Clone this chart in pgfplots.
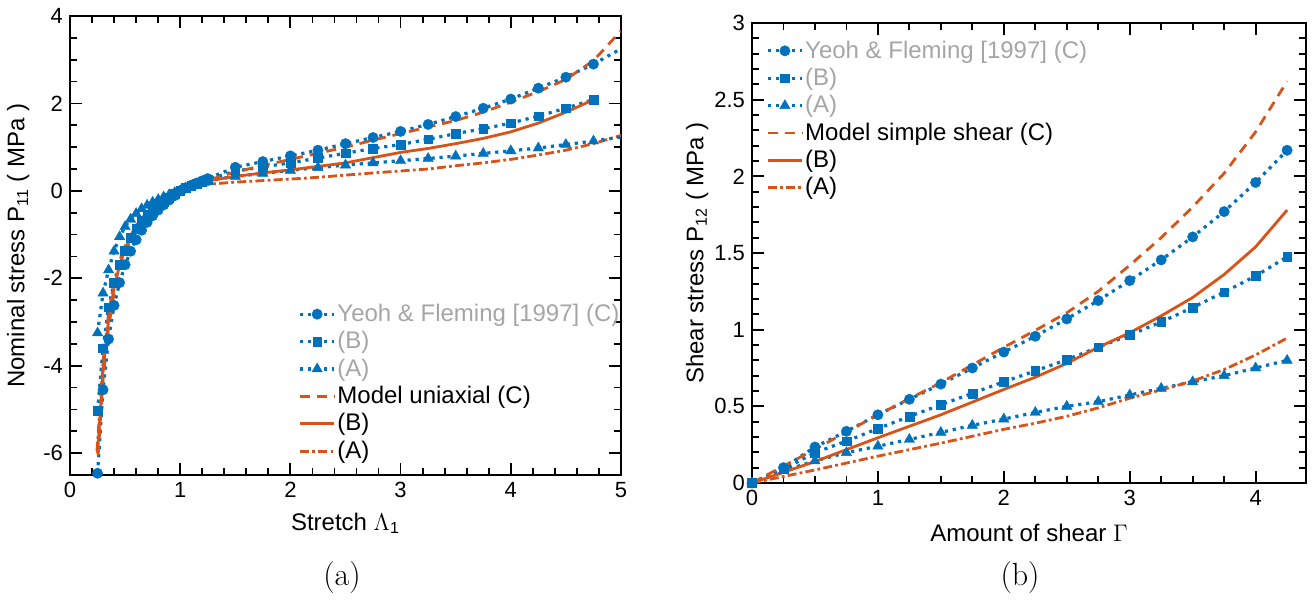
\documentclass[border=0pt]{standalone}
\usepackage{pgfplots}
\pgfplotsset{compat=1.18}
\usepackage{fontspec}
\newfontfamily\arial{Liberation Sans}
\definecolor{mblue}{RGB}{0,114,189}
\definecolor{morange}{RGB}{217,83,25}
\definecolor{lgray}{RGB}{165,165,165}
\pgfplotsset{
  myaxis/.style={
    scale only axis,
    axis line style={line width=1.1pt},
    every tick/.style={black, line width=0.9pt},
    major tick length=6pt, minor tick length=3.5pt,
    tick align=inside,
    tick pos=both,
    ticklabel style={font=\arial\fontsize{11}{13}\selectfont},
    /pgf/number format/assume math mode=true,
    label style={font=\arial\fontsize{12}{14}\selectfont},
    legend style={draw=none, fill=none, font=\arial\fontsize{12}{14}\selectfont,
      inner sep=0pt, row sep=1.9pt, nodes={inner sep=0.8pt, text depth=0.15em}},
    legend cell align=left,
  },
  dat/.style={color=mblue, line width=1.6pt, dash pattern=on 1.6pt off 2.4pt,
    mark options={solid, fill=mblue, draw=mblue, line width=0.2pt}},
  datC/.style={dat, mark=*, mark size=2.6pt},
  datB/.style={dat, mark=square*, mark size=2.2pt},
  datA/.style={dat, mark=triangle*, mark size=3pt},
  modC/.style={color=morange, line width=1.4pt, dash pattern=on 5pt off 3.5pt, no marks},
  modB/.style={color=morange, line width=1.4pt, solid, no marks},
  modA/.style={color=morange, line width=1.4pt, dash pattern=on 4.5pt off 1.6pt on 1.4pt off 1.6pt, no marks},
}
\begin{document}
\begin{tikzpicture}
\useasboundingbox (0,0) rectangle (657pt,301pt);
\begin{axis}[myaxis,
  at={(35pt,63.5pt)}, anchor=south west,
  width=275.5pt, height=229.5pt,
  xmin=0, xmax=5, ymin=-6.5, ymax=4,
  xtick={0,1,2,3,4,5}, minor x tick num=4,
  ytick={-6,-4,-2,0,2,4}, minor y tick num=3,
  xlabel={Stretch \(\Lambda\)\textsubscript{1}},
  ylabel={Nominal stress P\textsubscript{11} ( MPa )},
  xlabel style={at={(axis description cs:0.5,-0.105)}, anchor=center},
  ylabel style={at={(axis description cs:-0.094,0.5)}, anchor=center},
  legend style={at={(0.414,0.377)}, anchor=north west},
]
\addplot[datC] coordinates {(0.25,-6.46) (0.3,-4.55) (0.35,-3.39) (0.4,-2.62) (0.45,-2.10) (0.5,-1.69) (0.55,-1.38) (0.6,-1.12) (0.65,-0.90) (0.7,-0.72) (0.75,-0.57) (0.8,-0.44) (0.85,-0.32) (0.9,-0.21) (0.95,-0.11) (1.0,0) (1.05,0.07) (1.1,0.13) (1.15,0.18) (1.2,0.23) (1.25,0.28) (1.5,0.54) (1.75,0.67) (2,0.80) (2.25,0.93) (2.5,1.08) (2.75,1.22) (3,1.36) (3.25,1.52) (3.5,1.70) (3.75,1.89) (4,2.10) (4.25,2.35) (4.5,2.60) (4.75,2.90)};
\addlegendentry{\textcolor{lgray}{Yeoh \& Fleming [1997] (C)}}
\addplot[datB] coordinates {(0.25,-5.03) (0.3,-3.6) (0.35,-2.66) (0.4,-2.10) (0.45,-1.69) (0.5,-1.37) (0.55,-1.08) (0.6,-0.86) (0.65,-0.69) (0.7,-0.55) (0.75,-0.43) (0.8,-0.33) (0.85,-0.24) (0.9,-0.15) (0.95,-0.07) (1,0) (1.05,0.065) (1.1,0.12) (1.15,0.17) (1.2,0.215) (1.25,0.26) (1.5,0.45) (1.75,0.55) (2,0.64) (2.25,0.75) (2.5,0.86) (2.75,0.97) (3,1.06) (3.25,1.18) (3.5,1.31) (3.75,1.42) (4,1.55) (4.25,1.71) (4.5,1.89) (4.75,2.09)};
\addlegendentry{\textcolor{lgray}{(B)}}
\addplot[datA] coordinates {(0.25,-3.25) (0.3,-2.34) (0.35,-1.81) (0.4,-1.38) (0.45,-1.05) (0.5,-0.82) (0.55,-0.65) (0.6,-0.52) (0.65,-0.41) (0.7,-0.33) (0.75,-0.26) (0.8,-0.2) (0.85,-0.14) (0.9,-0.09) (0.95,-0.04) (1,0) (1.05,0.06) (1.1,0.11) (1.15,0.155) (1.2,0.2) (1.25,0.24) (1.5,0.33) (1.75,0.40) (2,0.47) (2.25,0.53) (2.5,0.59) (2.75,0.64) (3,0.69) (3.25,0.74) (3.5,0.795) (3.75,0.857) (4,0.916) (4.25,0.98) (4.5,1.06) (4.75,1.14)};
\addlegendentry{\textcolor{lgray}{(A)}}
\addplot[modC] coordinates {(0.255,-6.05) (0.3,-4.32) (0.35,-3.12) (0.4,-2.34) (0.45,-1.8) (0.5,-1.4) (0.6,-0.87) (0.7,-0.54) (0.8,-0.305) (0.9,-0.134) (1,0) (1.1,0.11) (1.2,0.2) (1.3,0.28) (1.5,0.43) (1.75,0.58) (2,0.72) (2.25,0.86) (2.5,1.0) (2.75,1.16) (3,1.31) (3.25,1.46) (3.5,1.61) (3.75,1.80) (4,2.03) (4.25,2.27) (4.5,2.55) (4.75,2.98) (5,3.66)};
\addlegendentry{Model uniaxial (C)}
\addplot[modB] coordinates {(0.25,-6.0) (0.3,-4.1) (0.35,-2.97) (0.4,-2.22) (0.45,-1.7) (0.5,-1.33) (0.6,-0.83) (0.7,-0.51) (0.8,-0.29) (0.9,-0.13) (1,0) (1.1,0.1) (1.2,0.18) (1.3,0.25) (1.5,0.33) (1.75,0.41) (2,0.48) (2.25,0.56) (2.5,0.64) (2.75,0.76) (3,0.88) (3.25,0.97) (3.5,1.08) (3.75,1.20) (4,1.35) (4.25,1.55) (4.5,1.80) (4.72,2.05)};
\addlegendentry{(B)}
\addplot[modA] coordinates {(0.245,-5.95) (0.3,-3.9) (0.35,-2.81) (0.4,-2.1) (0.45,-1.6) (0.5,-1.26) (0.6,-0.79) (0.7,-0.48) (0.8,-0.27) (0.9,-0.12) (1,0) (1.1,0.08) (1.2,0.13) (1.3,0.16) (1.5,0.2) (1.75,0.235) (2,0.27) (2.25,0.31) (2.5,0.36) (2.75,0.41) (3,0.455) (3.25,0.50) (3.5,0.575) (3.75,0.64) (4,0.72) (4.25,0.82) (4.5,0.93) (4.75,1.08) (5,1.27)};
\addlegendentry{(A)}
\addplot[dat, no marks, forget plot] coordinates {(4.75,2.90) (5,3.25)};
\addplot[dat, no marks, forget plot] coordinates {(4.75,1.14) (5,1.23)};
\end{axis}
\begin{axis}[myaxis,
  at={(376pt,59.5pt)}, anchor=south west,
  width=277pt, height=230pt,
  xmin=0, xmax=4.4, ymin=0, ymax=3,
  xtick={0,1,2,3,4}, minor x tick num=3,
  ytick={0,0.5,1,1.5,2,2.5,3}, minor y tick num=4,
  xlabel={Amount of shear \(\Gamma\)},
  ylabel={Shear stress P\textsubscript{12} ( MPa )},
  xlabel style={at={(axis description cs:0.5,-0.109)}, anchor=center},
  ylabel style={at={(axis description cs:-0.099,0.5)}, anchor=center},
  legend style={at={(0.025,0.966)}, anchor=north west, row sep=1.9pt},
]
\addplot[datC] coordinates {(0,0) (0.25,0.10) (0.5,0.235) (0.75,0.337) (1,0.445) (1.25,0.546) (1.5,0.645) (1.75,0.75) (2,0.854) (2.25,0.957) (2.5,1.07) (2.75,1.19) (3,1.32) (3.25,1.455) (3.5,1.605) (3.75,1.77) (4,1.96) (4.25,2.17)};
\addlegendentry{\textcolor{lgray}{Yeoh \& Fleming [1997] (C)}}
\addplot[datB] coordinates {(0,0) (0.25,0.09) (0.5,0.198) (0.75,0.273) (1,0.355) (1.25,0.434) (1.5,0.51) (1.75,0.585) (2,0.66) (2.25,0.731) (2.5,0.804) (2.75,0.886) (3,0.965) (3.25,1.05) (3.5,1.145) (3.75,1.245) (4,1.35) (4.25,1.475)};
\addlegendentry{\textcolor{lgray}{(B)}}
\addplot[datA] coordinates {(0,0) (0.25,0.08) (0.5,0.144) (0.75,0.198) (1,0.24) (1.25,0.284) (1.5,0.33) (1.75,0.376) (2,0.417) (2.25,0.46) (2.5,0.50) (2.75,0.53) (3,0.574) (3.25,0.617) (3.5,0.66) (3.75,0.70) (4,0.75) (4.25,0.80)};
\addlegendentry{\textcolor{lgray}{(A)}}
\addplot[modC] coordinates {(0,0) (0.5,0.22) (1,0.445) (1.5,0.655) (1.75,0.77) (2,0.885) (2.25,0.995) (2.5,1.11) (2.75,1.25) (3,1.42) (3.25,1.6) (3.5,1.8) (3.75,2.02) (4,2.29) (4.25,2.62)};
\addlegendentry{Model simple shear (C)}
\addplot[modB] coordinates {(0,0) (0.5,0.14) (1,0.295) (1.5,0.445) (2,0.61) (2.25,0.69) (2.5,0.78) (2.75,0.885) (3,0.98) (3.25,1.09) (3.5,1.21) (3.75,1.36) (4,1.54) (4.25,1.78)};
\addlegendentry{(B)}
\addplot[modA] coordinates {(0,0) (0.5,0.085) (1,0.175) (1.5,0.26) (2,0.35) (2.25,0.39) (2.5,0.435) (2.75,0.49) (3,0.553) (3.25,0.607) (3.5,0.665) (3.75,0.74) (4,0.835) (4.25,0.945)};
\addlegendentry{(A)}
\end{axis}
\node[font=\fontsize{16}{18}\selectfont] at (171pt,12pt) {(a)};
\node[font=\fontsize{16}{18}\selectfont] at (510pt,12pt) {(b)};
\end{tikzpicture}
\end{document}
